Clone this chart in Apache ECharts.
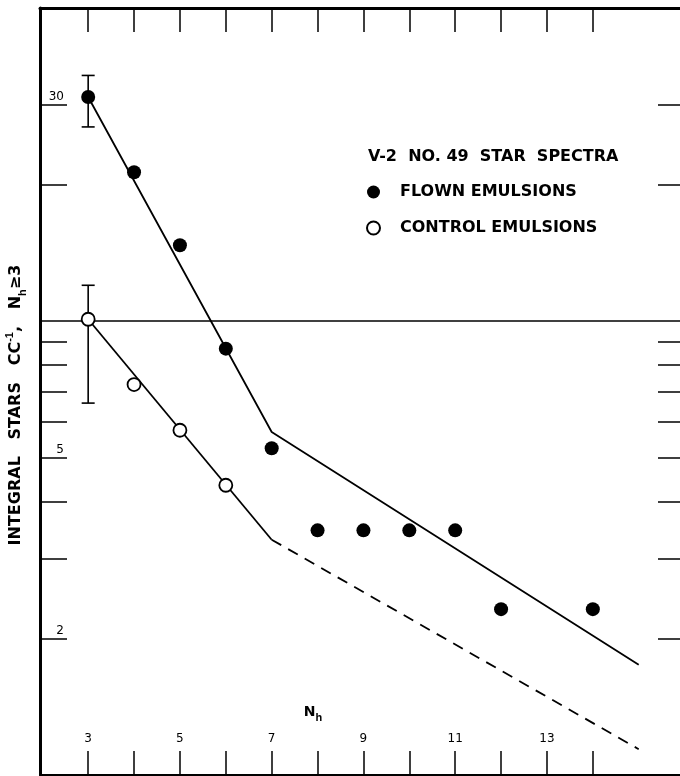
<!DOCTYPE html>
<html>
<head>
<meta charset="utf-8">
<script src="https://cdn.jsdelivr.net/npm/echarts@6/dist/echarts.min.js"></script>
<style>
    html, body { margin: 0; padding: 0; background: #fff; }
    #chart { width: 680px; height: 776px; }
</style>
</head>
<body>
<div id="chart"></div>
<script>
// measured stars, N_h on x
const flownX = [3, 4, 5, 6, 7, 8, 9, 10, 11, 12, 14];
const flownY = [31.2, 21.3, 14.7, 8.7, 5.25, 3.46, 3.46, 3.46, 3.46, 2.32, 2.32];
const controlX = [3, 4, 5, 6];
const controlY = [10.1, 7.25, 5.75, 4.35];

// error bars at N_h = 3
const errX = [3, 3];
const errLow = [26.8, 6.6];
const errHigh = [34.8, 12.0];

// drawn curves
const flownFitX = [3, 7, 15];
const flownFitY = [31.2, 5.7, 1.75];
const controlFitX = [3, 7];
const controlFitY = [10.1, 3.3];
const controlExtX = [7, 15];
const controlExtY = [3.3, 1.14];

// ticks
const xTicks = [3, 4, 5, 6, 7, 8, 9, 10, 11, 12, 13, 14];
const xLabels = [3, 5, 7, 9, 11, 13];
const yTicks = [2, 3, 4, 5, 6, 7, 8, 9, 20, 30];
const yLabels = [2, 5, 30];
const refLine = 10;

const zip = (xs, ys) => xs.map((x, i) => [x, ys[i]]);
const black = '#000';
const font = 'DejaVu Sans';

let chart = echarts.init(document.getElementById('chart'));

let option = {
    animation: false,
    backgroundColor: '#fff',
    grid: { left: 40, right: 0, top: 8, bottom: 1 },
    xAxis: [
        {
            type: 'value', min: 1.95, max: 15.9, position: 'bottom',
            axisLine: { onZero: false, lineStyle: { color: black, width: 2 } },
            axisTick: { inside: true, length: 24, customValues: xTicks, lineStyle: { color: black, width: 1.5 } },
            axisLabel: { inside: true, customValues: xLabels, margin: 30, color: black, fontSize: 12, fontFamily: font },
            splitLine: { show: false }
        },
        {
            type: 'value', min: 1.95, max: 15.9, position: 'top',
            axisLine: { onZero: false, lineStyle: { color: black, width: 3 } },
            axisTick: { inside: true, length: 24, customValues: xTicks, lineStyle: { color: black, width: 1.5 } },
            axisLabel: { show: false },
            splitLine: { show: false }
        }
    ],
    yAxis: [
        {
            type: 'log', logBase: 10, min: 1, max: 49, position: 'left',
            axisLine: { show: true, lineStyle: { color: black, width: 3 } },
            axisTick: { show: true, inside: true, length: 27, customValues: yTicks, lineStyle: { color: black, width: 1.5 } },
            axisLabel: {
                inside: true, customValues: yLabels, margin: 24, align: 'right', verticalAlign: 'bottom',
                padding: [0, 0, 2, 0], color: black, fontSize: 12, fontFamily: font
            },
            splitLine: { show: false }
        },
        {
            type: 'log', logBase: 10, min: 1, max: 49, position: 'right',
            axisLine: { show: false },
            axisTick: { show: true, inside: true, length: 22, customValues: yTicks, lineStyle: { color: black, width: 1.5 } },
            axisLabel: { show: false },
            splitLine: { show: false }
        }
    ],
    legend: {
        data: ['FLOWN EMULSIONS', 'CONTROL EMULSIONS'],
        orient: 'vertical',
        left: 361, top: 179,
        itemWidth: 13, itemHeight: 13, itemGap: 20,
        selectedMode: false,
        textStyle: { color: black, fontSize: 16, fontWeight: 'bold', fontFamily: font, padding: [0, 0, 0, 15] }
    },
    graphic: [
        {
            type: 'text', x: 368, y: 157,
            style: { text: 'V-2  NO. 49  STAR  SPECTRA', fill: black, font: 'bold 16px "DejaVu Sans"', verticalAlign: 'middle' }
        },
        {
            type: 'text', x: 16, y: 405, rotation: Math.PI / 2,
            style: {
                text: 'INTEGRAL   STARS   CC{sup|-1},   N{sub|h}≥3',
                fill: black, font: 'bold 16px "DejaVu Sans"', align: 'center', verticalAlign: 'middle', lineHeight: 24,
                rich: {
                    sup: { fontSize: 11, fontWeight: 'bold', lineHeight: 11, verticalAlign: 'top' },
                    sub: { fontSize: 11, fontWeight: 'bold', lineHeight: 11, verticalAlign: 'bottom' }
                }
            }
        },
        {
            type: 'text', x: 313, y: 712,
            style: {
                text: 'N{sub|h}', fill: black, font: 'bold 14px "DejaVu Sans"', align: 'center', verticalAlign: 'middle', lineHeight: 22,
                rich: { sub: { fontSize: 11, fontWeight: 'bold', lineHeight: 11, verticalAlign: 'bottom' } }
            }
        }
    ],
    series: [
        {
            name: 'flown fit', type: 'line', data: zip(flownFitX, flownFitY),
            symbol: 'none', silent: true, lineStyle: { color: black, width: 1.8 }
        },
        {
            name: 'control fit', type: 'line', data: zip(controlFitX, controlFitY),
            symbol: 'none', silent: true, lineStyle: { color: black, width: 1.8 }
        },
        {
            name: 'control extrapolated', type: 'line', data: zip(controlExtX, controlExtY),
            symbol: 'none', silent: true, lineStyle: { color: black, width: 1.8, type: [11, 8] }
        },
        {
            name: 'errors', type: 'custom', silent: true,
            data: errX.map((x, i) => [x, errLow[i], errHigh[i]]),
            encode: { x: 0, y: [1, 2] },
            renderItem: (params, api) => {
                let lo = api.coord([api.value(0), api.value(1)]);
                let hi = api.coord([api.value(0), api.value(2)]);
                let w = 6.5;
                let st = { stroke: black, lineWidth: 1.6 };
                return {
                    type: 'group',
                    children: [
                        { type: 'line', shape: { x1: lo[0], y1: lo[1], x2: hi[0], y2: hi[1] }, style: st },
                        { type: 'line', shape: { x1: lo[0] - w, y1: lo[1], x2: lo[0] + w, y2: lo[1] }, style: st },
                        { type: 'line', shape: { x1: hi[0] - w, y1: hi[1], x2: hi[0] + w, y2: hi[1] }, style: st }
                    ]
                };
            }
        },
        {
            name: 'FLOWN EMULSIONS', type: 'scatter', data: zip(flownX, flownY),
            symbol: 'circle', symbolSize: 14, itemStyle: { color: black, opacity: 1 }, z: 5,
            markLine: {
                silent: true, symbol: 'none', label: { show: false },
                lineStyle: { color: black, width: 1.5, type: 'solid' },
                data: [{ yAxis: refLine }]
            }
        },
        {
            name: 'CONTROL EMULSIONS', type: 'scatter', data: zip(controlX, controlY),
            symbol: 'circle', symbolSize: 13, z: 5,
            itemStyle: { color: '#fff', borderColor: black, borderWidth: 1.8, opacity: 1 }
        }
    ]
};

option && chart.setOption(option);
</script>
</body>
</html>
